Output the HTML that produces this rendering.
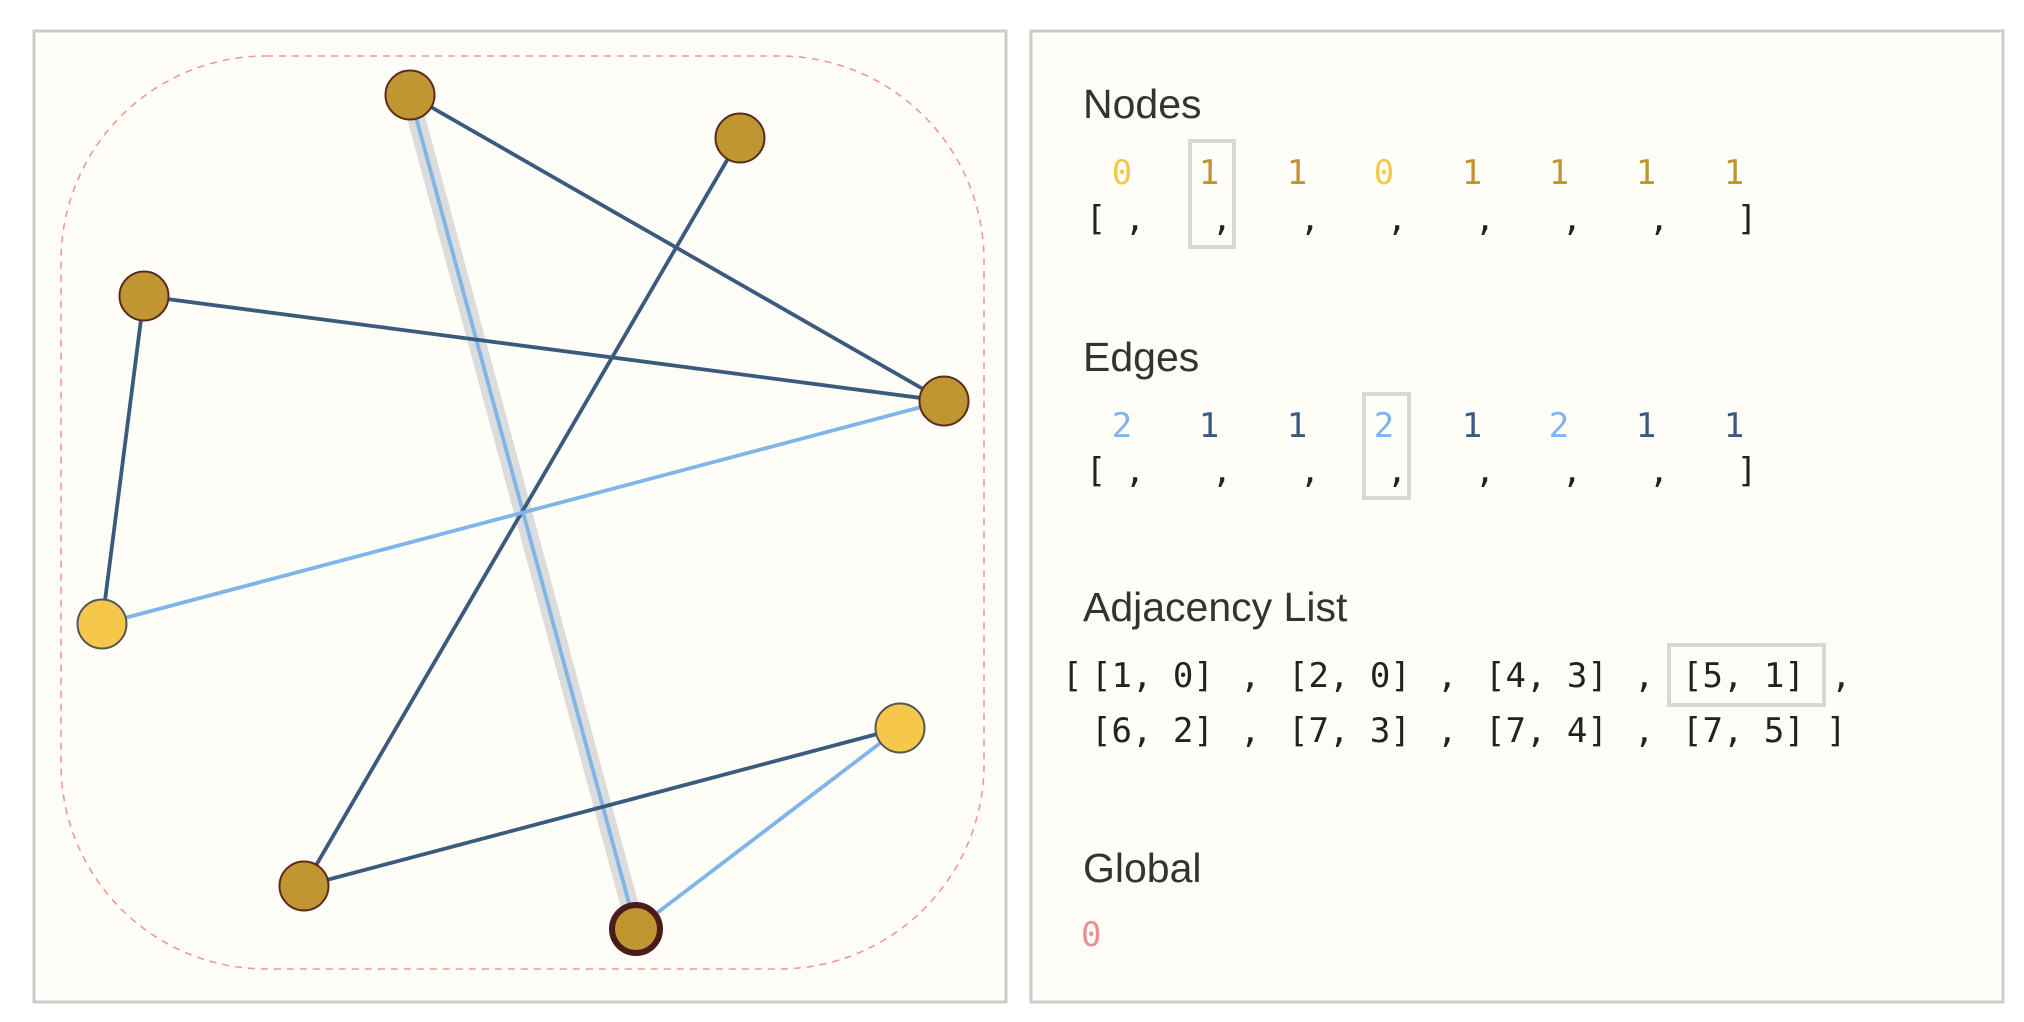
<!DOCTYPE html>
<html><head><meta charset="utf-8"><style>
html,body{margin:0;padding:0;background:#fff;}
svg{display:block}
.t{font-family:"Liberation Sans",sans-serif;font-size:41px;fill:#333}
.m{font-family:"DejaVu Sans Mono","Liberation Mono",monospace;font-size:34px;fill:#222}
</style></head><body>
<svg width="2024" height="1022" viewBox="0 0 2024 1022" xmlns="http://www.w3.org/2000/svg">
<rect x="34" y="31" width="972" height="971" fill="#fefdf8" stroke="#ccc" stroke-width="3"/>
<rect x="1031" y="31" width="972" height="971" fill="#fefdf8" stroke="#ccc" stroke-width="3"/>
<rect x="61" y="56" width="923" height="913" rx="205" ry="205" fill="none" stroke="#ef9a94" stroke-width="1.6" stroke-dasharray="7,6"/>
<line x1="410" y1="95" x2="636" y2="929" stroke="#dcdcdc" stroke-width="18"/>
<g stroke-width="3.8" stroke-linecap="round">
<line x1="410" y1="95" x2="636" y2="929" stroke="#7fb5e8"/>
<line x1="410" y1="95" x2="944" y2="401" stroke="#3a5a7e"/>
<line x1="740" y1="138" x2="304" y2="886" stroke="#3a5a7e"/>
<line x1="144" y1="296" x2="944" y2="401" stroke="#3a5a7e"/>
<line x1="144" y1="296" x2="102" y2="624" stroke="#3a5a7e"/>
<line x1="102" y1="624" x2="944" y2="401" stroke="#7fb5e8"/>
<line x1="304" y1="886" x2="900" y2="728" stroke="#3a5a7e"/>
<line x1="900" y1="728" x2="636" y2="929" stroke="#7fb5e8"/>
</g>
<g stroke="#5a2a1a" stroke-width="2">
<circle cx="410" cy="95" r="24.5" fill="#bf9632"/>
<circle cx="740" cy="138" r="24.5" fill="#bf9632"/>
<circle cx="144" cy="296" r="24.5" fill="#bf9632"/>
<circle cx="944" cy="401" r="24.5" fill="#bf9632"/>
<circle cx="304" cy="886" r="24.5" fill="#bf9632"/>
<circle cx="102" cy="624" r="24.5" fill="#f5c84c" stroke="#555"/>
<circle cx="900" cy="728" r="24.5" fill="#f5c84c" stroke="#555"/>
<circle cx="636" cy="929" r="24" fill="#bf9632" stroke="#4a1c1c" stroke-width="6"/>
</g>

<text class="t" x="1083" y="118">Nodes</text>
<rect x="1190" y="141" width="44" height="106" fill="none" stroke="#d8d8d8" stroke-width="4"/>
<g class="m" text-anchor="middle">
<text x="1122" y="184" style="fill:#f5c84c">0</text>
<text x="1209" y="184" style="fill:#c09530">1</text>
<text x="1297" y="184" style="fill:#c09530">1</text>
<text x="1384" y="184" style="fill:#f5c84c">0</text>
<text x="1472" y="184" style="fill:#c09530">1</text>
<text x="1559" y="184" style="fill:#c09530">1</text>
<text x="1646" y="184" style="fill:#c09530">1</text>
<text x="1734" y="184" style="fill:#c09530">1</text>
<text x="1096" y="230">[</text>
<text x="1135" y="230">,</text><text x="1222" y="230">,</text><text x="1310" y="230">,</text><text x="1397" y="230">,</text><text x="1485" y="230">,</text><text x="1572" y="230">,</text><text x="1659" y="230">,</text>
<text x="1747" y="230">]</text>
</g>

<text class="t" x="1083" y="371">Edges</text>
<rect x="1364" y="394" width="45" height="104" fill="none" stroke="#d8d8d8" stroke-width="4"/>
<g class="m" text-anchor="middle">
<text x="1122" y="437" style="fill:#7fb5e8">2</text>
<text x="1209" y="437" style="fill:#3a5a7e">1</text>
<text x="1297" y="437" style="fill:#3a5a7e">1</text>
<text x="1384" y="437" style="fill:#7fb5e8">2</text>
<text x="1472" y="437" style="fill:#3a5a7e">1</text>
<text x="1559" y="437" style="fill:#7fb5e8">2</text>
<text x="1646" y="437" style="fill:#3a5a7e">1</text>
<text x="1734" y="437" style="fill:#3a5a7e">1</text>
<text x="1096" y="482">[</text>
<text x="1135" y="482">,</text><text x="1222" y="482">,</text><text x="1310" y="482">,</text><text x="1397" y="482">,</text><text x="1485" y="482">,</text><text x="1572" y="482">,</text><text x="1659" y="482">,</text>
<text x="1747" y="482">]</text>
</g>

<text class="t" x="1083" y="621">Adjacency List</text>
<rect x="1669" y="645" width="155" height="60" fill="none" stroke="#d8d8d8" stroke-width="4"/>
<g class="m">
<text x="1062" y="687">[</text>
<text x="1091" y="687">[1, 0]</text><text x="1240" y="687">,</text>
<text x="1288" y="687">[2, 0]</text><text x="1437" y="687">,</text>
<text x="1485" y="687">[4, 3]</text><text x="1634" y="687">,</text>
<text x="1682" y="687">[5, 1]</text><text x="1831" y="687">,</text>
<text x="1091" y="742">[6, 2]</text><text x="1240" y="742">,</text>
<text x="1288" y="742">[7, 3]</text><text x="1437" y="742">,</text>
<text x="1485" y="742">[7, 4]</text><text x="1634" y="742">,</text>
<text x="1682" y="742">[7, 5]</text><text x="1826" y="742">]</text>
</g>

<text class="t" x="1083" y="882">Global</text>
<text class="m" x="1081" y="946" style="fill:#e88f8f">0</text>
</svg>
</body></html>
